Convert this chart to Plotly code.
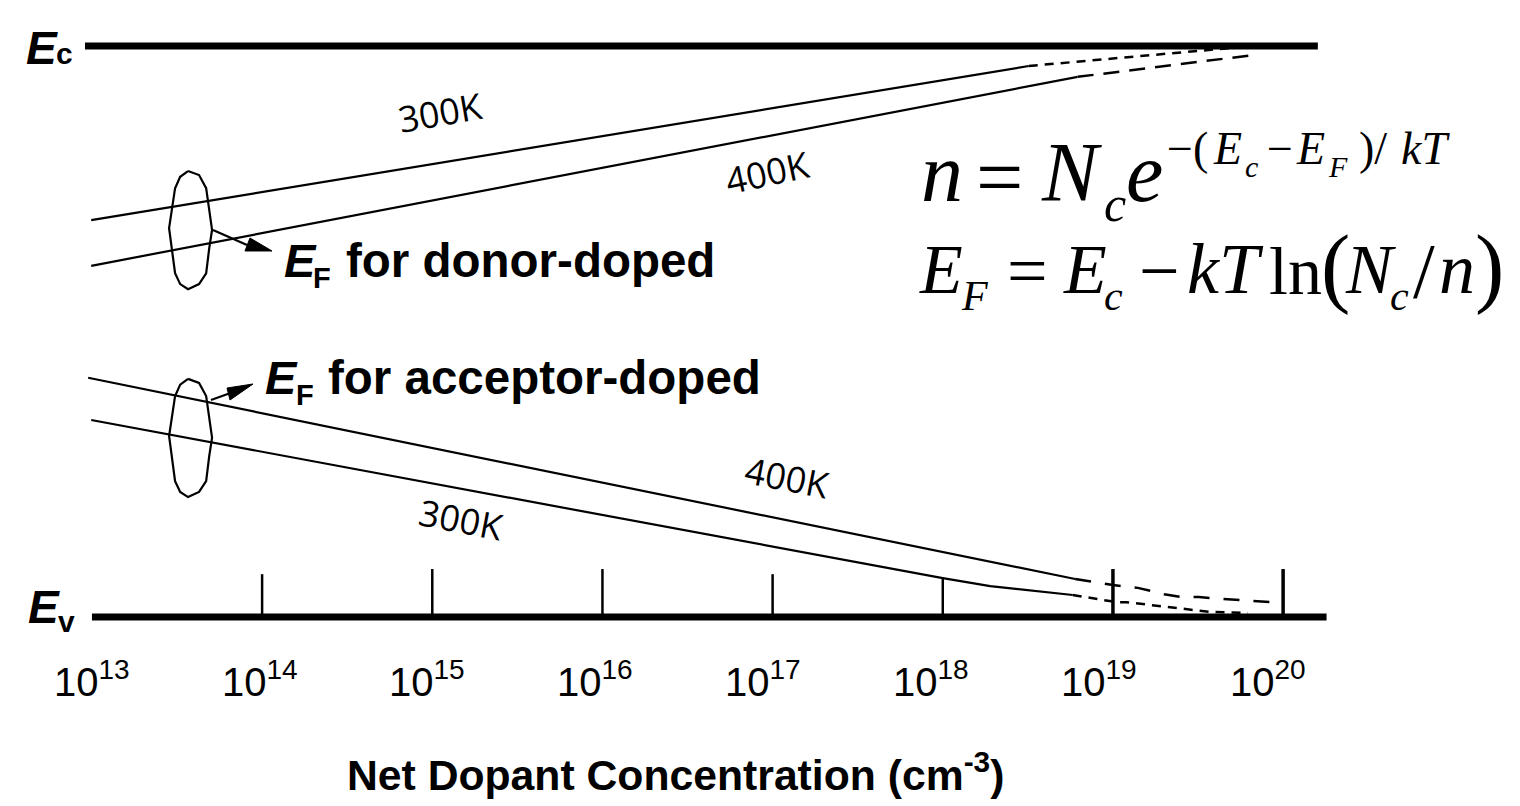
# -*- coding: utf-8 -*-
import plotly.graph_objects as go

WIDTH = 1520
HEIGHT = 806

# === data: concentration in cm-3, energy as fraction of the gap (Ev=0, Ec=1) ===
band_edge_ec_conc = [9.1e12, 1.6e20]
band_edge_ec_energy = [1.0, 1.0]
band_edge_ev_conc = [1.0e13, 1.8e20]
band_edge_ev_energy = [0.0, 0.0]

donor_300k_conc = [9.9e12, 3.2e18]
donor_300k_energy = [0.695, 0.965]
donor_300k_dash_conc = [3.2e18, 5.6e19]
donor_300k_dash_energy = [0.965, 0.998]
donor_400k_conc = [9.9e12, 6.2e18]
donor_400k_energy = [0.615, 0.946]
donor_400k_dash_conc = [6.2e18, 6.6e19]
donor_400k_dash_energy = [0.946, 0.984]

acceptor_400k_conc = [9.5e12, 6.0e18]
acceptor_400k_energy = [0.419, 0.0665]
acceptor_400k_dash_conc = [6.0e18, 1.0e19, 1.4e19, 2.0e19, 2.5e19, 3.2e19, 3.8e19, 9.8e19]
acceptor_400k_dash_energy = [0.0665, 0.056, 0.051, 0.040, 0.035, 0.035, 0.033, 0.025]
acceptor_300k_conc = [9.9e12, 5.6e17, 1.0e18, 1.9e18, 5.8e18]
acceptor_300k_energy = [0.345, 0.082, 0.068, 0.054, 0.0385]
acceptor_300k_dash_conc = [5.8e18, 1.05e19, 1.2e19, 2.2e19, 3.7e19, 6.2e19]
acceptor_300k_dash_energy = [0.0385, 0.026, 0.026, 0.0175, 0.009, 0.007]

tick_conc = [1e14, 1e15, 1e16, 1e17, 1e18, 1e19, 1e20]
tick_top_energy = [0.075, 0.084, 0.084, 0.075, 0.07, 0.084, 0.084]
tick_widths = [2.5, 2.5, 2.5, 2.5, 2.5, 3.5, 3.5]
tick_labels = ["13", "14", "15", "16", "17", "18", "19", "20"]

# the two outline ovals around the Fermi level curves
oval_conc = [3.67e13, 4.26e13, 4.69e13, 4.82e13, 5.08e13, 4.89e13, 4.69e13, 4.26e13,
             3.67e13, 3.30e13, 3.08e13, 2.84e13, 3.08e13, 3.30e13, 3.67e13]
oval_top_energy = [0.781, 0.774, 0.751, 0.727, 0.678, 0.646, 0.602, 0.583,
                   0.574, 0.583, 0.602, 0.681, 0.751, 0.771, 0.781]
oval_bottom_energy = [0.417, 0.410, 0.387, 0.363, 0.314, 0.282, 0.238, 0.219,
                      0.210, 0.219, 0.238, 0.317, 0.387, 0.407, 0.417]

fig = go.Figure()


def add_line(x, y, width=2.2, dash="solid"):
    fig.add_trace(go.Scatter(x=x, y=y, mode="lines", hoverinfo="skip", showlegend=False,
                             cliponaxis=False, line=dict(color="black", width=width, dash=dash)))


add_line(band_edge_ec_conc, band_edge_ec_energy, width=7)
add_line(band_edge_ev_conc, band_edge_ev_energy, width=7)
add_line(donor_300k_conc, donor_300k_energy)
add_line(donor_400k_conc, donor_400k_energy)
add_line(acceptor_400k_conc, acceptor_400k_energy)
add_line(acceptor_300k_conc, acceptor_300k_energy)
add_line(donor_300k_dash_conc, donor_300k_dash_energy, width=2.5, dash="9px,7px")
add_line(donor_400k_dash_conc, donor_400k_dash_energy, width=2.5, dash="16px,10px")
add_line(acceptor_400k_dash_conc, acceptor_400k_dash_energy, width=2.5, dash="16px,14px")
add_line(acceptor_300k_dash_conc, acceptor_300k_dash_energy, width=2.5, dash="9px,7px")
for c, top, w in zip(tick_conc, tick_top_energy, tick_widths):
    add_line([c, c], [0, top], width=w)
add_line(oval_conc, oval_top_energy)
add_line(oval_conc, oval_bottom_energy)


def label(px, baseline, text, size, family="Liberation Sans", angle=0, anchor="left"):
    fig.add_annotation(xref="paper", yref="paper", x=px / WIDTH,
                       y=1 - (baseline - 0.33 * size) / HEIGHT, text=text, showarrow=False,
                       xanchor=anchor, yanchor="middle", textangle=angle, borderpad=0,
                       font=dict(family=family, size=size, color="black"))


def arrow(start, end, head):
    # leader line plus a narrow filled head, both placed on the page
    pts = [(x / WIDTH, 1 - y / HEIGHT) for x, y in head]
    path = "M " + " L ".join(f"{x:.5f} {y:.5f}" for x, y in pts) + " Z"
    fig.add_shape(type="path", path=path, xref="paper", yref="paper",
                  fillcolor="black", line=dict(color="black", width=1))
    fig.add_shape(type="line", xref="paper", yref="paper",
                  x0=start[0] / WIDTH, y0=1 - start[1] / HEIGHT,
                  x1=end[0] / WIDTH, y1=1 - end[1] / HEIGHT,
                  line=dict(color="black", width=2.2))


SERIF = "Liberation Serif"

label(25, 63, "<b><i>E</i></b>", 46)
label(55, 63, "<b>c</b>", 30)
label(27, 622, "<b><i>E</i></b>", 46)
label(57, 631, "<b>v</b>", 30)

label(283, 276, "<b><i>E</i></b>", 47)
label(312, 288, "<b>F</b>", 29)
label(345, 276, "<b>for donor-doped</b>", 47.5)
label(264, 393, "<b><i>E</i></b>", 47)
label(295, 405, "<b>F</b>", 29)
label(327, 393, "<b>for acceptor-doped</b>", 47.5)

label(440, 124, "300K", 36, family="Open Sans", angle=-10, anchor="center")
label(767, 184, "400K", 36, family="Open Sans", angle=-12, anchor="center")
label(787, 489, "400K", 36, family="Open Sans", angle=11, anchor="center")
label(461, 531, "300K", 36, family="Open Sans", angle=11, anchor="center")

tick_label_x = [92, 260, 427, 595, 763, 931, 1099, 1268]
for lx, exp in zip(tick_label_x, tick_labels):
    label(lx, 692, "10<sup>" + exp + "</sup>", 40, anchor="center")

label(675, 786, "<b>Net Dopant Concentration (cm<sup>-3</sup>)</b>", 42.7, anchor="center")

arrow((213, 230), (247, 245), [(272, 251), (245, 251), (250, 238)])
arrow((211, 400), (236, 391), [(253, 384), (227, 388), (230, 400)])

# n = Nc e^-(Ec-EF)/kT
label(920, 200, "<i>n</i>", 84, SERIF)
label(975, 205, "=", 84, SERIF)
label(1040, 200, "<i>N</i>", 84, SERIF)
label(1103, 220, "<i>c</i>", 50, SERIF)
label(1125, 200, "<i>e</i>", 84, SERIF)
label(1166, 164, "\u2212(", 46, SERIF)
label(1212, 164, "<i>E</i>", 46, SERIF)
label(1244, 176, "<i>c</i>", 30, SERIF)
label(1266, 164, "\u2212", 46, SERIF)
label(1295, 164, "<i>E</i>", 46, SERIF)
label(1327, 176, "<i>F</i>", 30, SERIF)
label(1358, 164, ")/", 46, SERIF)
label(1400, 164, "<i>kT</i>", 46, SERIF)

# EF = Ec - kT ln(Nc/n)
label(918, 293, "<i>E</i>", 70, SERIF)
label(960, 310, "<i>F</i>", 42, SERIF)
label(1006, 295, "=", 72, SERIF)
label(1062, 293, "<i>E</i>", 70, SERIF)
label(1103, 310, "<i>c</i>", 42, SERIF)
label(1138, 295, "\u2212", 72, SERIF)
label(1186, 293, "<i>kT</i>", 72, SERIF)
label(1268, 293, "ln", 68, SERIF)
label(1320, 296, "(", 88, SERIF)
label(1344, 293, "<i>N</i>", 70, SERIF)
label(1389, 310, "<i>c</i>", 42, SERIF)
label(1412, 296, "/", 78, SERIF)
label(1438, 293, "<i>n</i>", 72, SERIF)
label(1474, 296, ")", 88, SERIF)

# axis ranges are set so that the decades land where they do in the source figure
fig.update_layout(
    width=WIDTH, height=HEIGHT,
    margin=dict(l=0, r=0, t=0, b=0),
    paper_bgcolor="white", plot_bgcolor="white",
    showlegend=False,
    xaxis=dict(type="log", range=[12.4597, 21.3921], visible=False),
    yaxis=dict(range=[-0.331, 1.0806], visible=False),
)

fig.write_html("out.html", config={"displayModeBar": False},
               post_script="document.body.style.margin='0';")
